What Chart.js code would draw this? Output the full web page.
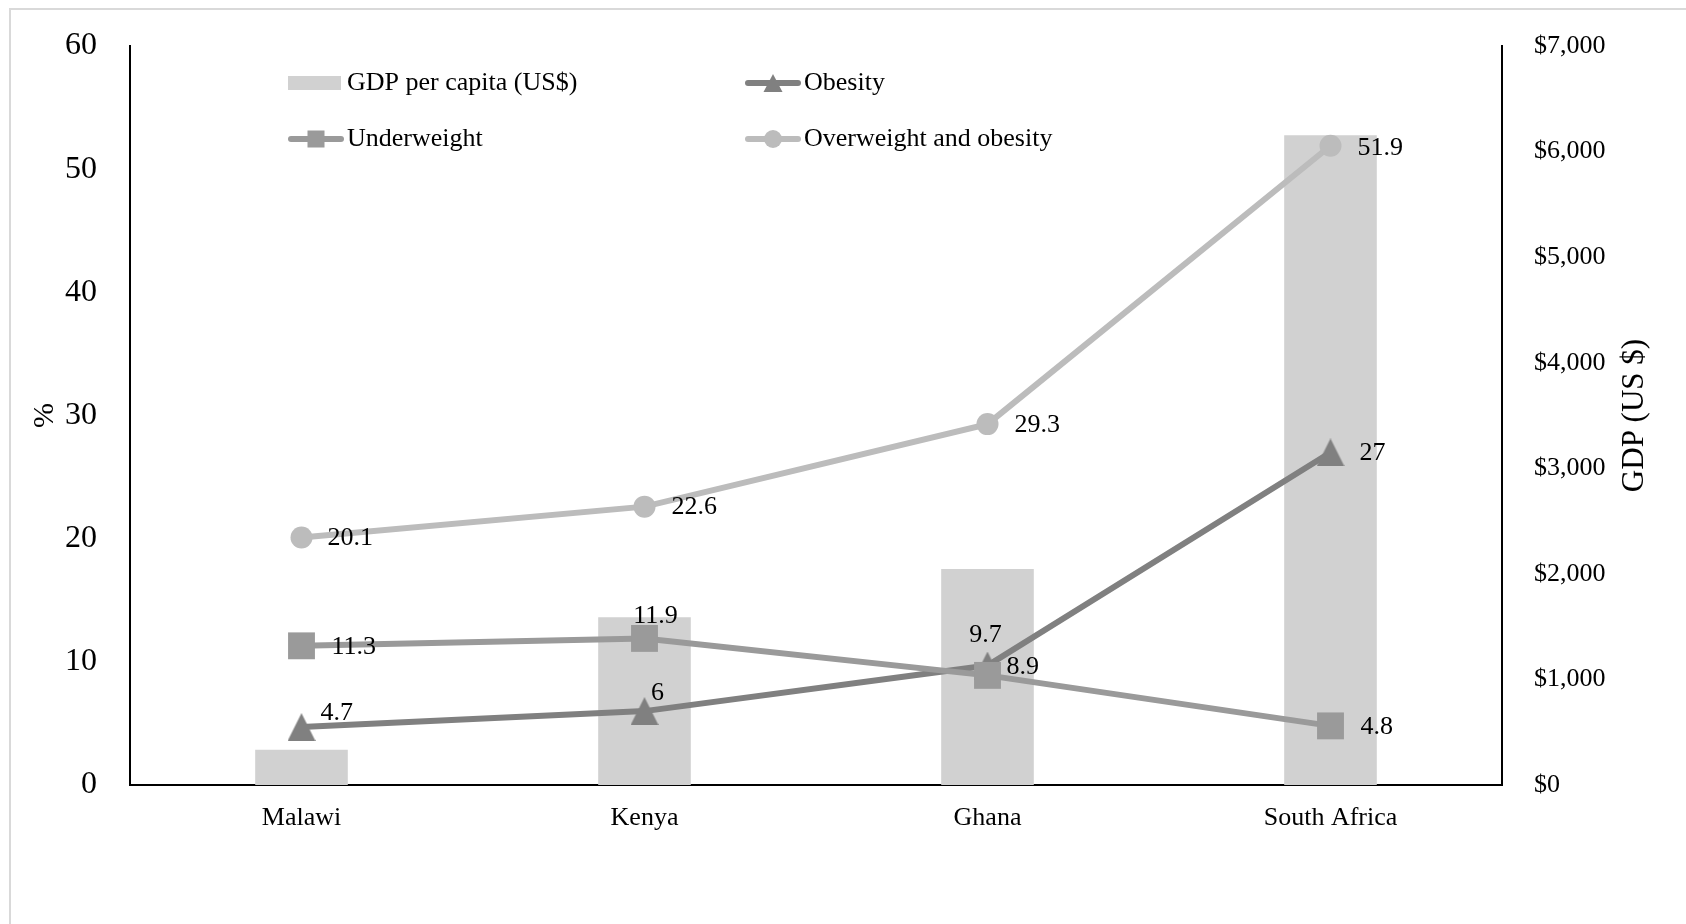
<!DOCTYPE html>
<html>
<head>
<meta charset="utf-8">
<script src="https://cdn.jsdelivr.net/npm/chart.js@4/dist/chart.umd.min.js"></script>
<style>
  html, body { margin: 0; padding: 0; background: #ffffff; }
  canvas { display: block; }
</style>
</head>
<body>
<canvas id="chart" width="1686" height="924"></canvas>
<script>
// ---- data ----
const categories = ['Malawi', 'Kenya', 'Ghana', 'South Africa'];
const gdpPerCapita = [335, 1590, 2045, 6155];
const underweight = [11.3, 11.9, 8.9, 4.8];
const obesity = [4.7, 6, 9.7, 27];
const overweightObesity = [20.1, 22.6, 29.3, 51.9];
const percentTicks = [0, 10, 20, 30, 40, 50, 60];
const gdpTicks = [0, 1000, 2000, 3000, 4000, 5000, 6000, 7000];
const seriesNames = ['GDP per capita (US$)', 'Underweight', 'Obesity', 'Overweight and obesity'];
const percentTitle = '%';
const gdpTitle = 'GDP (US $)';

// ---- styling ----
const SERIF = '"Liberation Serif", "Times New Roman", serif';
const COLORS = { gdp: '#d1d1d1', under: '#9a9a9a', obese: '#808080', over: '#bcbcbc' };

// data-label placement for each point: [dx, dy, textAlign]
const labelPlacement = {
  under: [[30, 1, 'left'], [11, -22, 'center'], [19, -8, 'left'], [30, 1, 'left']],
  obese: [[19, -14, 'left'], [13, -18, 'center'], [-2, -30, 'center'], [29, 1, 'left']],
  over:  [[26, 1, 'left'], [27, 1, 'left'], [27, 1, 'left'], [27, 2, 'left']]
};

function makeTriangle(w, h, color) {
  const c = document.createElement('canvas');
  c.width = w; c.height = h;
  const g = c.getContext('2d');
  g.fillStyle = color;
  g.beginPath();
  g.moveTo(w / 2, 0);
  g.lineTo(w, h);
  g.lineTo(0, h);
  g.closePath();
  g.fill();
  return c;
}
const triangleMarker = makeTriangle(28, 28, COLORS.obese);

Chart.defaults.font.family = SERIF;
Chart.defaults.color = '#000000';

// light outer frame of the chart area
const framePlugin = {
  id: 'frame',
  beforeDraw(chart) {
    const ctx = chart.ctx;
    ctx.save();
    ctx.fillStyle = '#ffffff';
    ctx.fillRect(0, 0, chart.width, chart.height);
    ctx.strokeStyle = '#d9d9d9';
    ctx.lineWidth = 2;
    ctx.strokeRect(10, 9, chart.width + 20, chart.height + 20);
    ctx.restore();
  }
};

// value labels next to each point
const valueLabelPlugin = {
  id: 'valueLabels',
  afterDatasetsDraw(chart) {
    const ctx = chart.ctx;
    ctx.save();
    ctx.font = '26px ' + SERIF;
    ctx.fillStyle = '#000000';
    ctx.textBaseline = 'middle';
    chart.data.datasets.forEach((ds, di) => {
      if (!ds.labelKey) return;
      const meta = chart.getDatasetMeta(di);
      meta.data.forEach((pt, i) => {
        const [dx, dy, align] = labelPlacement[ds.labelKey][i];
        ctx.textAlign = align;
        ctx.fillText(String(ds.data[i]), pt.x + dx, pt.y + dy);
      });
    });
    ctx.restore();
  }
};

// two-column legend inside the plot
const legendPlugin = {
  id: 'twoColLegend',
  afterDraw(chart) {
    const ctx = chart.ctx;
    const ds = chart.data.datasets;
    const slots = [
      { x: 288, y: 83 }, { x: 288, y: 139 }, { x: 745, y: 83 }, { x: 745, y: 139 }
    ];
    ctx.save();
    ctx.font = '26px ' + SERIF;
    ctx.textBaseline = 'middle';
    ctx.textAlign = 'left';
    ds.forEach((d, i) => {
      const s = slots[i];
      if (d.type === 'bar') {
        ctx.fillStyle = d.backgroundColor;
        ctx.fillRect(s.x, s.y - 7, 53, 14);
      } else {
        ctx.strokeStyle = d.borderColor;
        ctx.lineWidth = 6;
        ctx.lineCap = 'round';
        ctx.beginPath();
        ctx.moveTo(s.x + 3, s.y);
        ctx.lineTo(s.x + 53, s.y);
        ctx.stroke();
        const cx = s.x + 28;
        ctx.fillStyle = d.borderColor;
        if (d.pointStyle === 'rect') {
          ctx.fillRect(cx - 8.5, s.y - 8.5, 17, 17);
        } else if (d.pointStyle === 'circle') {
          ctx.beginPath();
          ctx.arc(cx, s.y, 9, 0, Math.PI * 2);
          ctx.fill();
        } else {
          ctx.beginPath();
          ctx.moveTo(cx, s.y - 9);
          ctx.lineTo(cx + 9.5, s.y + 9);
          ctx.lineTo(cx - 9.5, s.y + 9);
          ctx.closePath();
          ctx.fill();
        }
      }
      ctx.fillStyle = '#000000';
      ctx.fillText(d.label, s.x + 59, s.y);
    });
    ctx.restore();
  }
};

// secondary axis title, reading bottom-to-top
const rightTitlePlugin = {
  id: 'rightTitle',
  afterDraw(chart) {
    const scale = chart.scales.y1;
    const ctx = chart.ctx;
    ctx.save();
    ctx.translate(1635, (scale.top + scale.bottom) / 2);
    ctx.rotate(-Math.PI / 2);
    ctx.font = '31px ' + SERIF;
    ctx.fillStyle = '#000000';
    ctx.textAlign = 'center';
    ctx.textBaseline = 'middle';
    ctx.fillText(gdpTitle, 0, 0);
    ctx.restore();
  }
};

new Chart(document.getElementById('chart'), {
  type: 'bar',
  data: {
    labels: categories,
    datasets: [
      {
        type: 'bar', label: seriesNames[0], data: gdpPerCapita, yAxisID: 'y1',
        backgroundColor: COLORS.gdp, borderWidth: 0,
        barPercentage: 0.27, categoryPercentage: 1, order: 4
      },
      {
        type: 'line', label: seriesNames[1], data: underweight, yAxisID: 'y',
        borderColor: COLORS.under, backgroundColor: COLORS.under, borderWidth: 6,
        pointStyle: 'rect', pointRadius: 19, pointBorderWidth: 0,
        pointBackgroundColor: COLORS.under, order: 1, labelKey: 'under'
      },
      {
        type: 'line', label: seriesNames[2], data: obesity, yAxisID: 'y',
        borderColor: COLORS.obese, backgroundColor: COLORS.obese, borderWidth: 6,
        pointStyle: triangleMarker, pointRadius: 14, pointBorderWidth: 0,
        order: 3, labelKey: 'obese'
      },
      {
        type: 'line', label: seriesNames[3], data: overweightObesity, yAxisID: 'y',
        borderColor: COLORS.over, backgroundColor: COLORS.over, borderWidth: 6,
        pointStyle: 'circle', pointRadius: 11, pointBorderWidth: 0,
        pointBackgroundColor: COLORS.over, order: 2, labelKey: 'over'
      }
    ]
  },
  options: {
    responsive: false,
    animation: false,
    devicePixelRatio: 1,
    layout: { padding: { top: 46, left: 0, right: 0, bottom: 0 } },
    plugins: {
      legend: { display: false },
      tooltip: { enabled: false }
    },
    scales: {
      x: {
        offset: true,
        grid: { display: false },
        border: { display: true, color: '#000000', width: 2 },
        ticks: { font: { size: 26 }, color: '#000000', padding: 10 },
        afterFit(scale) { scale.height = 139; }
      },
      y: {
        position: 'left',
        min: 0, max: 60,
        grid: { display: false },
        border: { display: true, color: '#000000', width: 2 },
        ticks: { font: { size: 32 }, color: '#000000', padding: 25 },
        afterBuildTicks(scale) { scale.ticks = percentTicks.map(v => ({ value: v })); },
        title: { display: true, text: percentTitle, font: { size: 30 }, color: '#000000', padding: { top: 27, bottom: 0 } },
        afterFit(scale) { scale.width = 130; }
      },
      y1: {
        position: 'right',
        min: 0, max: 7000,
        grid: { display: false },
        border: { display: true, color: '#000000', width: 2 },
        ticks: {
          font: { size: 26 }, color: '#000000', padding: 24,
          callback: v => '$' + Number(v).toLocaleString('en-US')
        },
        afterBuildTicks(scale) { scale.ticks = gdpTicks.map(v => ({ value: v })); },
        afterFit(scale) { scale.width = 184; }
      }
    }
  },
  plugins: [framePlugin, valueLabelPlugin, legendPlugin, rightTitlePlugin]
});
</script>
</body>
</html>
